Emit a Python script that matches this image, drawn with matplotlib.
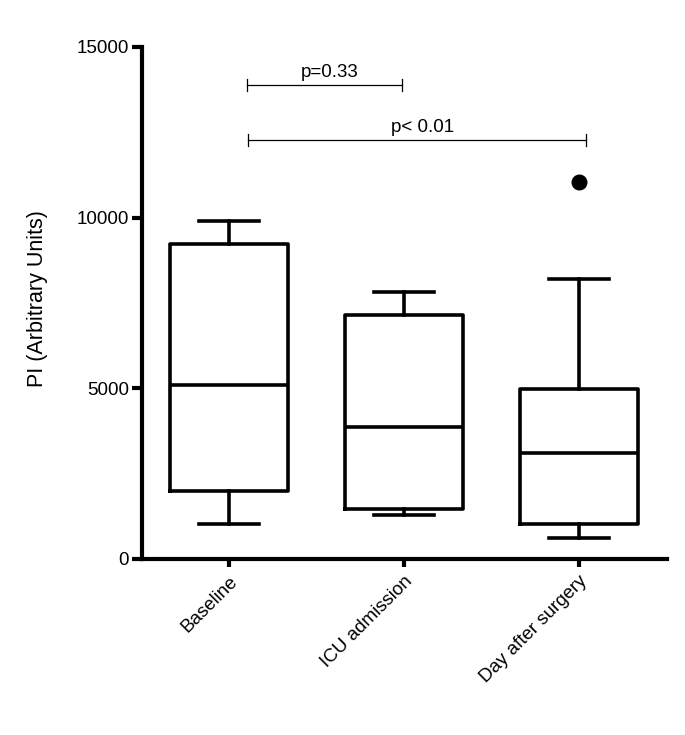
import numpy as np
import matplotlib
matplotlib.use("Agg")
import matplotlib.pyplot as plt

plt.rcParams['font.family'] = ['Liberation Sans', 'DejaVu Sans']

# box statistics
groups = ['Baseline', 'ICU admission', 'Day after surgery']
whisker_low = [1010, 1280, 600]
q1 = [1990, 1460, 1035]
medians = [5100, 3860, 3115]
q3 = [9230, 7160, 4990]
whisker_high = [9910, 7830, 8200]
outliers = [[], [], [11050]]

# significance brackets
sig_pairs = [(0.1, 0.99), (0.11, 2.04)]
sig_heights = [13880, 12270]
sig_labels = ['p=0.33', 'p< 0.01']

stats = []
for i, g in enumerate(groups):
    stats.append(dict(label=g, whislo=whisker_low[i], q1=q1[i], med=medians[i],
                      q3=q3[i], whishi=whisker_high[i], fliers=outliers[i]))

fig = plt.figure(figsize=(6.85, 7.35), dpi=100)
ax = fig.add_axes([0.2066, 0.2395, 0.7664, 0.6968])

lw = 2.6
ax.bxp(stats, positions=range(len(groups)), widths=0.67, showcaps=True,
       boxprops=dict(color='black', linewidth=lw),
       whiskerprops=dict(color='black', linewidth=lw),
       capprops=dict(color='black', linewidth=lw),
       medianprops=dict(color='black', linewidth=lw),
       flierprops=dict(marker='o', markerfacecolor='black', markeredgecolor='black',
                       markersize=10.5),
       capwidths=0.34)

cap = 176
for (x0, x1), h, lab in zip(sig_pairs, sig_heights, sig_labels):
    ax.plot([x0, x1], [h, h], color='black', lw=0.9)
    ax.plot([x0, x0], [h - cap, h + cap], color='black', lw=0.9)
    ax.plot([x1, x1], [h - cap, h + cap], color='black', lw=0.9)
    ax.text((x0 + x1) / 2 + 0.03, h + 120, lab, ha='center', va='bottom', fontsize=13.5)

ax.set_xlim(-0.5, 2.5)
ax.set_ylim(0, 15000)
ax.set_yticks([0, 5000, 10000, 15000])
ax.set_xticks(range(len(groups)))
ax.set_xticklabels(groups, rotation=45, ha='right', rotation_mode='anchor', fontsize=13.5)
ax.tick_params(axis='y', labelsize=13.5, width=3, length=7.5, direction='out', pad=1.5)
ax.tick_params(axis='x', width=3, length=6, direction='out', pad=4)
ax.set_ylabel('PI (Arbitrary Units)', fontsize=15.5)
ax.yaxis.set_label_coords(-0.178, 0.509)

for s in ['top', 'right']:
    ax.spines[s].set_visible(False)
for s in ['left', 'bottom']:
    ax.spines[s].set_linewidth(3)

fig.savefig('out.png', dpi=100)
